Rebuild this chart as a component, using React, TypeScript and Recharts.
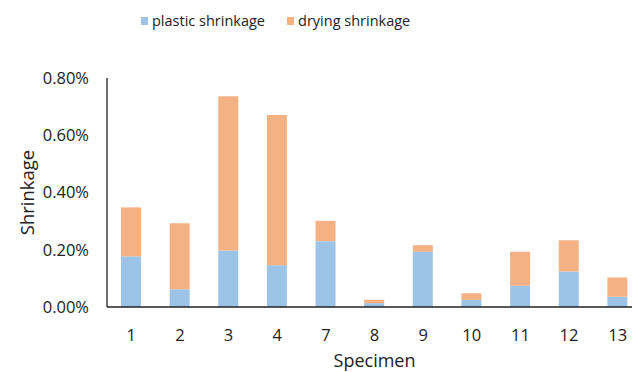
import React from 'react'
import { BarChart, Bar, XAxis, YAxis, Legend } from 'recharts'

const specimens = ['1', '2', '3', '4', '7', '8', '9', '10', '11', '12', '13']
const plasticShrinkage = [0.177, 0.062, 0.197, 0.146, 0.23, 0.0135, 0.193, 0.025, 0.074, 0.124, 0.036]
const dryingShrinkage = [0.171, 0.231, 0.539, 0.525, 0.071, 0.012, 0.023, 0.023, 0.119, 0.109, 0.067]
const yTicks = [0, 0.2, 0.4, 0.6, 0.8]

const FONT = '"Open Sans", sans-serif'
const BLUE = '#9dc3e6'
const ORANGE = '#f4b183'

const data = specimens.map((s, i) => ({
  specimen: s,
  plastic: plasticShrinkage[i],
  drying: dryingShrinkage[i],
}))

const LegendContent = () => (
  <div style={{ display: 'flex', alignItems: 'center', fontFamily: FONT, fontSize: 14.5, color: '#222' }}>
    {[
      { label: 'plastic shrinkage', color: BLUE },
      { label: 'drying shrinkage', color: ORANGE },
    ].map((item, i) => (
      <div key={i} style={{ display: 'flex', alignItems: 'center', marginRight: i === 0 ? 22 : 0 }}>
        <span style={{ width: 7, height: 8, background: item.color, display: 'inline-block', marginRight: 4 }} />
        <span>{item.label}</span>
      </div>
    ))}
  </div>
)

export default function App() {
  return (
    <div style={{ position: 'absolute', left: 0, top: 0, width: 632, height: 372, overflow: 'hidden', background: '#fff' }}>
      <BarChart width={660} height={372} data={data} margin={{ top: 59, right: 18, left: 0, bottom: 15 }}>
        <Legend
          verticalAlign="top"
          content={<LegendContent />}
          wrapperStyle={{ top: 11, left: 141, width: 'auto' }}
        />
        <XAxis
          dataKey="specimen"
          height={50}
          axisLine={{ stroke: '#222', strokeWidth: 1.3 }}
          tickLine={false}
          tickMargin={16}
          tick={{ fill: '#222', fontSize: 16.5, fontFamily: FONT }}
          label={{ value: 'Specimen', position: 'insideBottom', offset: -10, style: { fill: '#222', fontSize: 18, fontFamily: FONT } }}
        />
        <YAxis
          width={107}
          domain={[0, 0.8]}
          ticks={yTicks}
          interval={0}
          tickFormatter={(v: number) => v.toFixed(2) + '%'}
          axisLine={{ stroke: '#222', strokeWidth: 1.3 }}
          tickLine={false}
          tickMargin={12}
          tick={{ fill: '#222', fontSize: 16.5, fontFamily: FONT }}
          label={{ value: 'Shrinkage', angle: -90, position: 'center', dx: -26, style: { fill: '#222', fontSize: 18.5, fontFamily: FONT } }}
        />
        <Bar dataKey="plastic" stackId="a" fill={BLUE} barSize={20} isAnimationActive={false} />
        <Bar dataKey="drying" stackId="a" fill={ORANGE} barSize={20} isAnimationActive={false} />
      </BarChart>
    </div>
  )
}
